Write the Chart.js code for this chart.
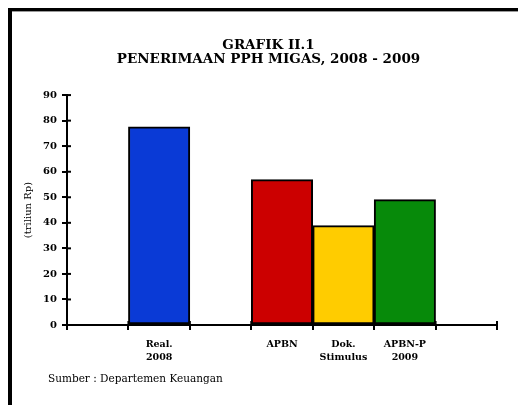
<!DOCTYPE html>
<html>
<head>
<meta charset="utf-8">
<script src="https://cdn.jsdelivr.net/npm/chart.js@4"></script>
<style>
    html, body { margin: 0; padding: 0; background: #fff; }
    #wrap { position: relative; width: 518px; height: 405px; overflow: hidden; }
    #frame {
        position: absolute; left: 8px; top: 8px; width: 600px; height: 500px;
        border-left: 4px solid #000; border-top: 3px solid #000;
        box-shadow: inset 0 1px 0 #999;
    }
    #chart { position: absolute; left: 0; top: 0; }
</style>
</head>
<body>
<div id="wrap">
    <div id="frame"></div>
    <canvas id="chart" width="518" height="405"></canvas>
</div>
<script>
var categories = ['', ['Real.', '2008'], '', 'APBN', ['Dok.', 'Stimulus'], ['APBN-P', '2009'], ''];
var values = [null, 77.6, null, 56.9, 38.9, 49.1, null];
var barColors = ['#0a3ad6', '#0a3ad6', '#cc0000', '#cc0000', '#ffcc00', '#078a0a', '#078a0a'];
var titleLines = ['GRAFIK II.1', 'PENERIMAAN PPH MIGAS, 2008 - 2009'];
var yTitle = '(triliun Rp)';
var sourceText = 'Sumber : Departemen Keuangan';

var serif = "'DejaVu Serif', serif";

// small marks that cross the axis line, like the original
var crossTicks = {
    id: 'crossTicks',
    afterDatasetsDraw: function (chart) {
        var ctx = chart.ctx;
        var x = chart.scales.x, y = chart.scales.y;
        ctx.save();
        ctx.strokeStyle = '#000';
        ctx.lineWidth = 2;
        y.ticks.forEach(function (t) {
            var py = y.getPixelForValue(t.value);
            ctx.beginPath();
            ctx.moveTo(y.right, py);
            ctx.lineTo(y.right + 4, py);
            ctx.stroke();
        });
        for (var i = 0; i <= categories.length; i++) {
            var px = x.getPixelForValue(i - 0.5);
            ctx.beginPath();
            ctx.moveTo(px, x.top);
            ctx.lineTo(px, x.top - 4);
            ctx.stroke();
        }
        ctx.restore();
    }
};

var sourceNote = {
    id: 'sourceNote',
    afterDraw: function (chart) {
        var ctx = chart.ctx;
        ctx.save();
        ctx.fillStyle = '#000';
        ctx.font = '10.5px ' + serif;
        ctx.textBaseline = 'middle';
        ctx.fillText(sourceText, 48, 379);
        ctx.restore();
    }
};

var ctx = document.getElementById('chart').getContext('2d');
var myChart = new Chart(ctx, {
    type: 'bar',
    data: {
        labels: categories,
        datasets: [{
            data: values,
            backgroundColor: barColors,
            borderColor: '#000',
            borderWidth: 2,
            borderSkipped: false,
            barPercentage: 1,
            categoryPercentage: 1
        }]
    },
    options: {
        responsive: false,
        animation: false,
        // wider left padding so the title sits right of centre as in the original
        layout: {
            padding: { left: 40, right: 21, top: 0, bottom: 35 }
        },
        plugins: {
            legend: { display: false },
            tooltip: { enabled: false },
            title: {
                display: true,
                text: titleLines,
                color: '#000',
                font: { family: serif, size: 13.5, weight: 'bold', lineHeight: 1.04 },
                padding: { top: 38, bottom: 29 }
            }
        },
        scales: {
            x: {
                offset: true,
                afterFit: function (scale) { scale.height = 45; },
                grid: {
                    offset: true,
                    drawOnChartArea: false,
                    color: '#000',
                    lineWidth: 2,
                    tickLength: 5
                },
                border: { color: '#000', width: 2 },
                ticks: {
                    color: '#000',
                    padding: 8,
                    maxRotation: 0,
                    autoSkip: false,
                    font: { family: serif, size: 9.5, weight: 'bold', lineHeight: 1.35 }
                }
            },
            y: {
                min: 0,
                max: 90,
                afterFit: function (scale) { scale.width = 27; },
                grid: {
                    drawOnChartArea: false,
                    color: '#000',
                    lineWidth: 2,
                    tickLength: 5
                },
                border: { color: '#000', width: 2 },
                ticks: {
                    stepSize: 10,
                    color: '#000',
                    padding: 5,
                    font: { family: serif, size: 10, weight: 'bold' }
                },
                title: {
                    display: true,
                    text: yTitle,
                    color: '#000',
                    // negative pad pulls the title out to the left of the narrow scale box
                    padding: { top: -18, bottom: 0 },
                    font: { family: serif, size: 10 }
                }
            }
        }
    },
    plugins: [crossTicks, sourceNote]
});
</script>
</body>
</html>
